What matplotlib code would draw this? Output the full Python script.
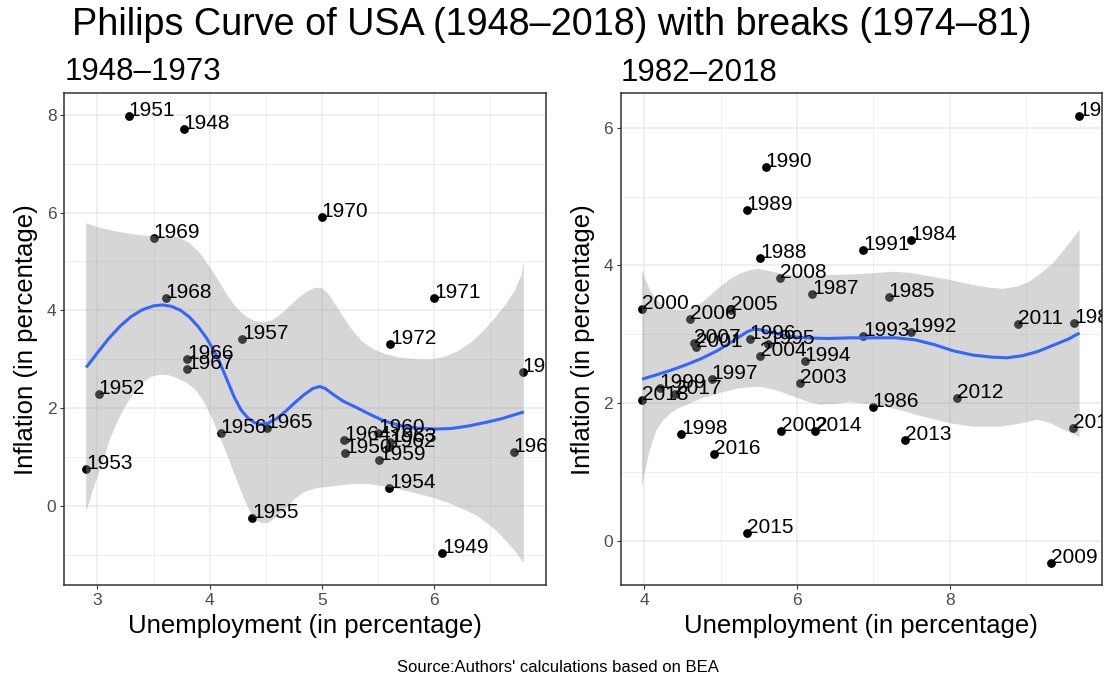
import matplotlib
matplotlib.use("Agg")
import matplotlib.pyplot as plt

plt.rcParams['font.family'] = ['Liberation Sans', 'DejaVu Sans']

# ---------------- data: 1948-1973 ----------------
years_a = [1948, 1949, 1950, 1951, 1952, 1953, 1954, 1955, 1956, 1957, 1958, 1959,
           1960, 1961, 1962, 1963, 1964, 1965, 1966, 1967, 1968, 1969, 1970, 1971, 1972]
unemp_a = [3.77, 6.07, 5.21, 3.28, 3.01, 2.90, 5.60, 4.38, 4.10, 4.29, 6.79, 5.51,
           5.50, 6.71, 5.60, 5.61, 5.20, 4.51, 3.80, 3.80, 3.61, 3.50, 5.00, 6.00, 5.61]
infl_a = [7.71, -0.97, 1.08, 7.98, 2.29, 0.76, 0.37, -0.25, 1.49, 3.41, 2.74, 0.94,
          1.49, 1.09, 1.20, 1.30, 1.34, 1.59, 3.01, 2.80, 4.26, 5.47, 5.91, 4.26, 3.30]

smooth_a_x = [2.90, 3.00, 3.10, 3.20, 3.30, 3.40, 3.50, 3.58, 3.66, 3.74, 3.82, 3.90,
              3.97, 4.04, 4.10, 4.16, 4.22, 4.28, 4.34, 4.40, 4.46, 4.52, 4.60, 4.68,
              4.76, 4.84, 4.92, 4.98, 5.03, 5.10, 5.19, 5.30, 5.42, 5.55, 5.70, 5.85,
              6.00, 6.15, 6.30, 6.45, 6.60, 6.80]
smooth_a_y = [2.83, 3.13, 3.42, 3.67, 3.87, 4.01, 4.09, 4.11, 4.08, 4.00, 3.86, 3.66,
              3.44, 3.17, 2.88, 2.55, 2.22, 1.96, 1.80, 1.70, 1.67, 1.69, 1.79, 1.94,
              2.11, 2.27, 2.40, 2.44, 2.40, 2.28, 2.14, 2.02, 1.88, 1.74, 1.64, 1.59,
              1.57, 1.58, 1.63, 1.70, 1.78, 1.92]
band_a_hi_x = [2.90, 3.00, 3.15, 3.30, 3.45, 3.60, 3.72, 3.82, 3.92, 4.00, 4.08, 4.16,
               4.24, 4.32, 4.40, 4.48, 4.56, 4.64, 4.72, 4.80, 4.88, 4.94, 5.00, 5.06,
               5.12, 5.19, 5.27, 5.36, 5.46, 5.57, 5.70, 5.85, 5.97, 6.10, 6.22, 6.34,
               6.45, 6.55, 6.64, 6.72, 6.78, 6.80]
band_a_hi = [5.78, 5.70, 5.62, 5.56, 5.52, 5.52, 5.50, 5.38, 5.15, 4.89, 4.60, 4.30,
             4.05, 3.88, 3.78, 3.75, 3.80, 3.93, 4.10, 4.27, 4.40, 4.46, 4.45, 4.33,
             4.12, 3.87, 3.60, 3.36, 3.20, 3.10, 3.03, 3.00, 2.99, 3.05, 3.17, 3.36,
             3.60, 3.86, 4.12, 4.40, 4.72, 5.00]
band_a_lo_x = [2.90, 2.95, 3.00, 3.06, 3.11, 3.17, 3.24, 3.32, 3.40, 3.48, 3.56, 3.64,
               3.72, 3.80, 3.88, 3.95, 4.02, 4.09, 4.16, 4.23, 4.30, 4.36, 4.42, 4.47,
               4.53, 4.60, 4.68, 4.76, 4.84, 4.95, 5.10, 5.25, 5.40, 5.55, 5.70, 5.85,
               6.00, 6.14, 6.26, 6.38, 6.47, 6.56, 6.65, 6.73, 6.80]
band_a_lo = [-0.12, 0.25, 0.60, 0.98, 1.35, 1.68, 2.00, 2.30, 2.52, 2.64, 2.68, 2.67,
             2.60, 2.51, 2.36, 2.12, 1.80, 1.42, 1.02, 0.60, 0.18, -0.12, -0.30, -0.36,
             -0.34, -0.22, -0.06, 0.14, 0.28, 0.36, 0.40, 0.44, 0.45, 0.40, 0.33, 0.25,
             0.16, 0.05, -0.07, -0.20, -0.35, -0.52, -0.74, -0.95, -1.17]

# ---------------- data: 1982-2018 ----------------
years_b = [1982, 1983, 1984, 1985, 1986, 1987, 1988, 1989, 1990, 1991, 1992, 1993,
           1994, 1995, 1996, 1997, 1998, 1999, 2000, 2001, 2002, 2003, 2004, 2005,
           2006, 2007, 2008, 2009, 2010, 2011, 2012, 2013, 2014, 2015, 2016, 2017, 2018]
unemp_b = [9.69, 9.63, 7.49, 7.20, 6.99, 6.20, 5.52, 5.34, 5.59, 6.87, 7.49, 6.87,
           6.10, 5.62, 5.38, 4.88, 4.48, 4.20, 3.97, 4.68, 5.79, 6.04, 5.51, 5.14,
           4.60, 4.65, 5.78, 9.33, 9.61, 8.90, 8.10, 7.42, 6.23, 5.34, 4.91, 4.40, 3.97]
infl_b = [6.17, 3.17, 4.37, 3.54, 1.94, 3.58, 4.11, 4.80, 5.43, 4.23, 3.04, 2.98,
          2.61, 2.86, 2.93, 2.35, 1.55, 2.22, 3.37, 2.82, 1.60, 2.30, 2.68, 3.35,
          3.22, 2.87, 3.82, -0.32, 1.64, 3.15, 2.07, 1.47, 1.60, 0.11, 1.27, 2.14, 2.05]

smooth_b_x = [3.97, 4.15, 4.35, 4.55, 4.75, 4.95, 5.10, 5.25, 5.35, 5.45, 5.55, 5.70,
              5.90, 6.10, 6.40, 6.70, 7.00, 7.30, 7.55, 7.80, 8.05, 8.30, 8.55, 8.75,
              8.95, 9.15, 9.35, 9.55, 9.70]
smooth_b_y = [2.35, 2.41, 2.48, 2.56, 2.65, 2.76, 2.86, 2.97, 3.04, 3.08, 3.06, 3.02,
              2.97, 2.95, 2.94, 2.95, 2.95, 2.95, 2.92, 2.85, 2.76, 2.70, 2.67, 2.66,
              2.69, 2.75, 2.84, 2.93, 3.02]
band_b_hi_x = [3.97, 4.02, 4.08, 4.16, 4.26, 4.38, 4.50, 4.62, 4.75, 4.88, 5.00, 5.12,
               5.25, 5.38, 5.49, 5.60, 5.75, 5.90, 6.10, 6.40, 6.70, 7.00, 7.26, 7.50,
               7.75, 8.00, 8.25, 8.50, 8.70, 8.90, 9.05, 9.20, 9.35, 9.50, 9.60, 9.70]
band_b_hi = [3.94, 3.78, 3.63, 3.50, 3.41, 3.36, 3.35, 3.38, 3.46, 3.58, 3.70, 3.80,
             3.88, 3.93, 3.95, 3.93, 3.89, 3.86, 3.85, 3.86, 3.87, 3.89, 3.91, 3.89,
             3.84, 3.79, 3.73, 3.68, 3.66, 3.70, 3.77, 3.89, 4.03, 4.23, 4.37, 4.52]
band_b_lo_x = [3.97, 4.01, 4.06, 4.11, 4.16, 4.25, 4.35, 4.45, 4.56, 4.75, 4.99, 5.25,
               5.52, 5.75, 5.95, 6.15, 6.30, 6.50, 6.69, 6.96, 7.15, 7.35, 7.60, 8.00,
               8.30, 8.66, 8.90, 9.14, 9.30, 9.45, 9.60, 9.70]
band_b_lo = [0.79, 1.02, 1.27, 1.45, 1.61, 1.76, 1.86, 1.93, 1.98, 2.07, 2.15, 2.22,
             2.24, 2.18, 2.10, 2.02, 1.98, 1.99, 2.02, 1.98, 1.95, 1.90, 1.82, 1.71,
             1.66, 1.66, 1.70, 1.76, 1.72, 1.64, 1.56, 1.51]

title = "Philips Curve of USA (1948\u20132018) with breaks (1974\u201381)"
sub_a = "1948\u20131973"
sub_b = "1982\u20132018"
xlab = "Unemployment (in percentage)"
ylab = "Inflation (in percentage)"
caption = "Source:Authors' calculations based on BEA"

W, H = 1107, 682
fig = plt.figure(figsize=(W / 100, H / 100), dpi=100)


def ax_rect(x0, y0, x1, y1):
    return [x0 / W, 1 - y1 / H, (x1 - x0) / W, (y1 - y0) / H]


def draw_panel(ax, yrs, xs, ys, sx, sy, hx, hi, lx, lo, xlim, ylim,
               xmaj, xmin, ymaj, ymin, sub):
    ax.set_xlim(*xlim)
    ax.set_ylim(*ylim)
    ax.set_xticks(xmaj)
    ax.set_xticks(xmin, minor=True)
    ax.set_yticks(ymaj)
    ax.set_yticks(ymin, minor=True)
    ax.grid(which='major', color='#EBEBEB', linewidth=1.1, zorder=0)
    ax.grid(which='minor', color='#EBEBEB', linewidth=0.55, zorder=0)
    ax.set_axisbelow(True)
    ax.tick_params(which='minor', length=0)
    ax.tick_params(which='major', length=3.2, width=0.8, color='#333333',
                   labelcolor='#4D4D4D', labelsize=12.5, pad=2.5)
    for s in ax.spines.values():
        s.set_color('#333333')
        s.set_linewidth(1.1)
    ax.scatter(xs, ys, s=40, color='black', zorder=2, linewidths=0)
    px = list(hx) + list(lx)[::-1]
    py = list(hi) + list(lo)[::-1]
    ax.fill(px, py, color='#999999', alpha=0.4, linewidth=0, zorder=3)
    ax.plot(sx, sy, color='#3366FF', linewidth=2.2, zorder=4,
            solid_capstyle='butt', solid_joinstyle='round')
    for yr, x, y in zip(yrs, xs, ys):
        ax.text(x, y, str(yr), ha='left', va='baseline', fontsize=15,
                color='black', zorder=5, clip_on=True)
    ax.set_xlabel(xlab, fontsize=18.5, color='black', labelpad=4)
    ax.set_ylabel(ylab, fontsize=18.5, color='black', labelpad=6)
    ax.set_title(sub, loc='left', fontsize=22.5, color='black', pad=9)


ax1 = fig.add_axes(ax_rect(64.3, 93.0, 545.7, 585.3))
draw_panel(ax1, years_a, unemp_a, infl_a, smooth_a_x, smooth_a_y,
           band_a_hi_x, band_a_hi, band_a_lo_x, band_a_lo,
           (2.705, 6.995), (-1.627, 8.445),
           [3, 4, 5, 6], [3.5, 4.5, 5.5, 6.5], [0, 2, 4, 6, 8], [-1, 1, 3, 5, 7], sub_a)

ax2 = fig.add_axes(ax_rect(620.7, 93.3, 1101.7, 585.3))
draw_panel(ax2, years_b, unemp_b, infl_b, smooth_b_x, smooth_b_y,
           band_b_hi_x, band_b_hi, band_b_lo_x, band_b_lo,
           (3.69, 9.99), (-0.643, 6.50),
           [4, 6, 8], [5, 7, 9], [0, 2, 4, 6], [1, 3, 5], sub_b)

fig.text(552 / W, 1 - 25 / H, title, ha='center', va='center', fontsize=27.2, color='black')
fig.text(558 / W, 1 - 668 / H, caption, ha='center', va='center', fontsize=12, color='black')

fig.savefig("out.png", dpi=100)
